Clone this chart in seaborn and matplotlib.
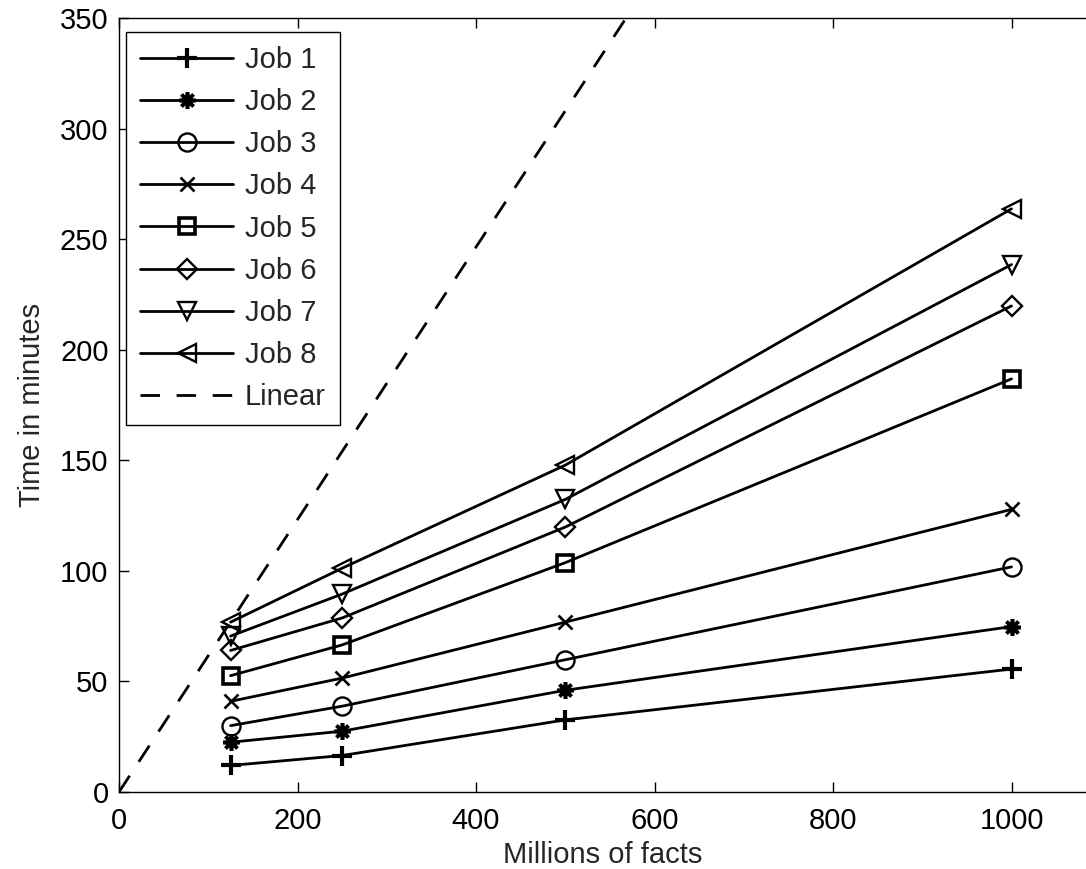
import matplotlib
matplotlib.use("Agg")
import matplotlib.pyplot as plt
import seaborn as sns
import pandas as pd

# ---- data ----
facts = [125, 250, 500, 1000]
job1 = [12, 16.5, 32.6, 55.6]
job2 = [22.5, 27.5, 46, 74.8]
job3 = [30, 38.8, 59.8, 101.8]
job4 = [41, 51.5, 76.8, 127.8]
job5 = [52.6, 66.5, 103.7, 186.8]
job6 = [64, 78.7, 119.8, 219.8]
job7 = [70.5, 89.5, 132.3, 238.5]
job8 = [76.8, 101.2, 147.8, 263.7]
linear_x = [0, 125, 250, 500, 1000]
linear_y = [0, 77, 154, 308, 616]

series = [("Job 1", job1, "+"), ("Job 2", job2, (8, 2, 0)), ("Job 3", job3, "o"),
          ("Job 4", job4, "x"), ("Job 5", job5, "s"), ("Job 6", job6, "D"),
          ("Job 7", job7, "v"), ("Job 8", job8, "<")]

sns.set_style("ticks")
plt.rcParams["font.family"] = ["Liberation Sans", "DejaVu Sans"]

fig = plt.figure(figsize=(10.86, 8.69), dpi=100)
W, H = 1086, 869
ax = fig.add_axes([119 / W, 77 / H, (W - 119) / W, (792 - 18) / H])

msizes = {"+": 14, (8, 2, 0): 12, "o": 13, "x": 10, "s": 11, "D": 10, "v": 13, "<": 13}
mew = {"+": 3.0, (8, 2, 0): 2.6, "o": 1.7, "x": 1.9, "s": 2.6, "D": 1.7, "v": 1.7, "<": 1.7}
for name, vals, mk in series:
    df = pd.DataFrame({"x": facts, "y": vals})
    sns.lineplot(data=df, x="x", y="y", ax=ax, color="black", linewidth=2.0,
                 marker=mk, markersize=msizes[mk], markeredgewidth=mew[mk],
                 markerfacecolor="none", markeredgecolor="black", label=name)

dfl = pd.DataFrame({"x": linear_x, "y": linear_y})
sns.lineplot(data=dfl, x="x", y="y", ax=ax, color="black", linewidth=2.0,
             linestyle=(0, (7, 6)), label="Linear")

ax.set_xlim(0, (W - 119) / 0.8925)
ax.set_ylim(0, 350)
ax.set_xticks([0, 200, 400, 600, 800, 1000])
ax.set_yticks(range(0, 351, 50))
ax.tick_params(direction="in", length=7, width=1, labelsize=21, top=True,
               colors="black")
ax.tick_params(axis="x", pad=11)
ax.tick_params(axis="y", pad=7.5)
for s in ["left", "bottom", "top"]:
    ax.spines[s].set_color("black")
    ax.spines[s].set_linewidth(1)
ax.spines["right"].set_visible(False)

ax.set_xlabel("Millions of facts", fontsize=21, labelpad=4)
ax.set_ylabel("Time in minutes", fontsize=21, labelpad=10)

leg = ax.legend(loc="upper left", bbox_to_anchor=(126 / W, 1 - 32 / H),
                bbox_transform=fig.transFigure, borderaxespad=0,
                fontsize=21, handlelength=3.2, handletextpad=0.4,
                labelspacing=0.485, borderpad=0.48, fancybox=False,
                framealpha=1, edgecolor="black", numpoints=1)
leg.get_frame().set_linewidth(1)

fig.savefig("out.png", dpi=100)
